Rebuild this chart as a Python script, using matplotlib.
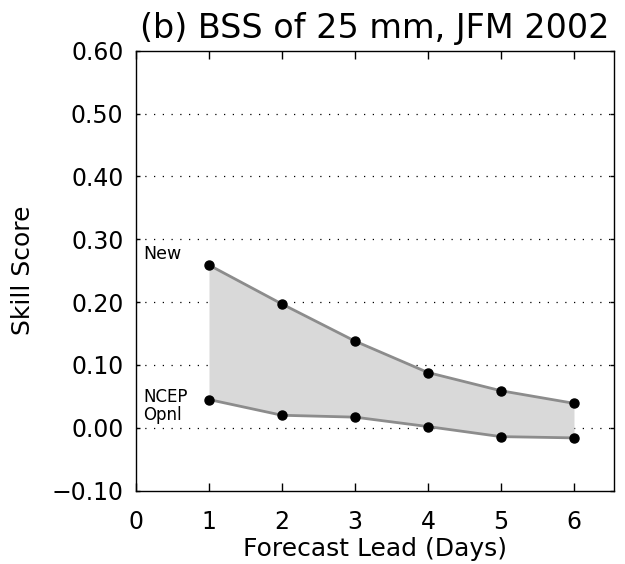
#!/usr/bin/env python3
"""BSS of 25 mm precipitation, JFM 2002: new vs NCEP operational."""

import matplotlib

matplotlib.use("Agg")
import matplotlib.pyplot as plt

LEADS = [1, 2, 3, 4, 5, 6]
BSS_NEW = [0.259, 0.197, 0.138, 0.088, 0.059, 0.039]
BSS_OPNL = [0.045, 0.020, 0.017, 0.002, -0.014, -0.016]
YTICKS = [-0.10, 0.00, 0.10, 0.20, 0.30, 0.40, 0.50, 0.60]
XTICKS = [0, 1, 2, 3, 4, 5, 6]

plt.rcParams["font.family"] = ["DejaVu Sans"]

fig = plt.figure(figsize=(6.25, 5.64), dpi=100)
ax = fig.add_axes([0.2176, 0.130, 0.765, 0.780])

ax.fill_between(LEADS, BSS_OPNL, BSS_NEW, color="#d9d9d9", linewidth=0, zorder=1)
for series in (BSS_NEW, BSS_OPNL):
    ax.plot(LEADS, series, color="#8c8c8c", linewidth=2, zorder=2)
    ax.plot(LEADS, series, "o", color="black", markersize=6.5, zorder=3)

for y in YTICKS[1:-1]:
    ax.axhline(y, color="black", linewidth=0.9, linestyle=(0, (1, 6)), zorder=0)

ax.text(0.1, 0.262, "New", fontsize=12.5, ha="left", va="bottom")
ax.text(0.1, 0.034, "NCEP\nOpnl", fontsize=12, ha="left", va="center",
        linespacing=1.0)

ax.set_xlim(0, 6.55)
ax.set_ylim(-0.10, 0.60)
ax.set_xticks(XTICKS)
ax.set_yticks(YTICKS)
ax.set_yticklabels(["\u22120.10"] + [f"{v:.2f}" for v in YTICKS[1:]])
ax.tick_params(axis="x", direction="in", length=6, width=1, labelsize=17,
               top=True, pad=14)
ax.tick_params(axis="y", direction="in", length=3, width=1, labelsize=17,
               right=True, pad=9)
for spine in ax.spines.values():
    spine.set_linewidth(1)

ax.set_xlabel("Forecast Lead (Days)", fontsize=18, labelpad=2)
ax.set_ylabel("Skill Score", fontsize=18, labelpad=12)
ax.set_title("(b) BSS of 25 mm, JFM 2002", fontsize=24, pad=9)

fig.savefig("out.png", dpi=100)
